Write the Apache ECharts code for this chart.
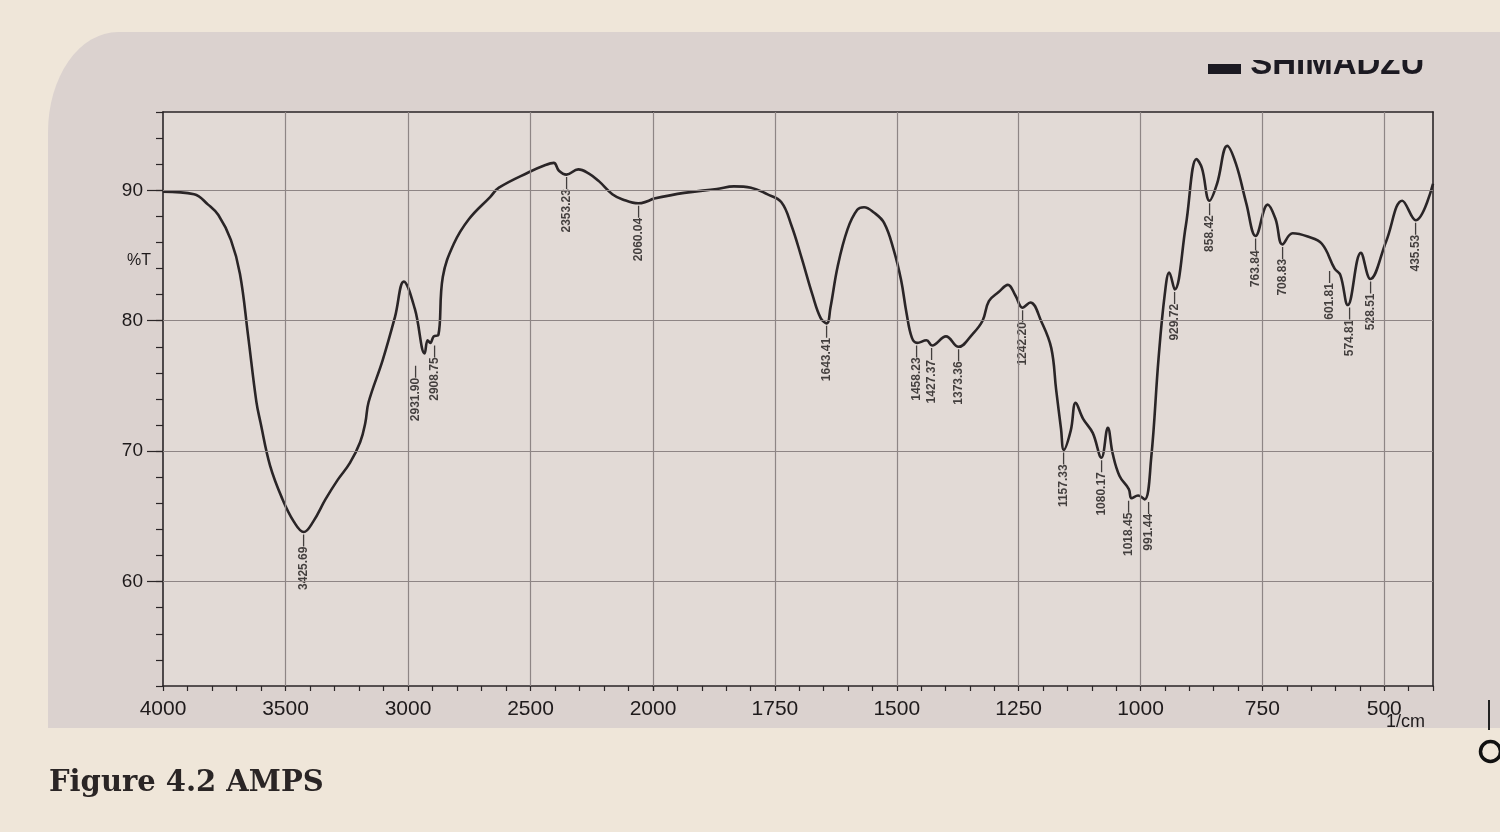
<!DOCTYPE html>
<html><head><meta charset="utf-8">
<script src="https://cdn.jsdelivr.net/npm/echarts@6/dist/echarts.min.js"></script>
<style>
html,body{margin:0;padding:0;background:#efe6d9;}
#paper{position:absolute;left:48px;top:32px;width:1452px;height:696px;background:#dbd2cf;border-top-left-radius:70px 100px;}
#c{position:absolute;left:0;top:0;width:1500px;height:832px;}
</style>
</head><body><div id="paper"></div><div id="c"></div>
<script>
// ---- data ----
const wavenumbers = [4000,3873,3816,3774,3723,3686,3653,3619,3602,3563,3513,3466,3425.69,3387,3337,3287,3237,3195,3174,3161,3103,3053,3017,2972,2931.90,2920,2908.75,2895,2876,2858,2813,2751,2664,2629,2505,2444,2405,2384,2353.23,2305,2263,2221,2166,2124,2060.04,2000,1936,1869,1834,1799,1766,1737,1716,1695,1673,1656,1643.41,1636,1621,1601,1581,1567,1547,1526,1506,1491,1480,1469,1458.23,1439,1427.37,1399,1373.36,1344,1324,1311,1291,1272,1256,1242.20,1226,1203,1183,1173,1163,1157.33,1143,1133,1118,1098,1080.17,1067,1057,1043,1024,1018.45,1005,991.44,978,963,950,941,929.72,907,885,874,858.42,843,822,804,783,763.84,739,723,708.83,688,657,628,601.81,590,574.81,548,528.51,496,463,435.53,400];
const transmittance = [89.9,89.7,88.9,88.1,86.2,83.6,78.9,73.8,72.2,68.9,66.35,64.6,63.8,64.6,66.3,67.8,69.1,70.7,72.2,73.75,77.0,80.3,83.0,80.9,77.5,78.5,78.3,78.8,78.9,83.35,85.9,87.8,89.5,90.2,91.4,91.9,92.1,91.5,91.2,91.6,91.3,90.7,89.7,89.3,89.0,89.35,89.8,90.1,90.3,90.2,89.7,89.1,87.3,84.8,82.0,80.2,79.8,81.0,84.2,87.0,88.5,88.7,88.3,87.5,85.4,83.1,80.6,78.7,78.3,78.5,78.1,78.8,78.0,79.0,80.0,81.5,82.2,82.75,81.9,81.0,81.4,79.9,77.9,74.7,71.7,70.1,71.6,73.7,72.5,71.4,69.5,71.8,69.8,68.1,67.1,66.4,66.6,66.3,69.5,77.1,82.1,83.7,82.4,87.3,92.4,91.7,89.2,90.5,93.4,92.0,89.0,86.5,88.9,87.8,85.85,86.7,86.45,85.9,84.0,83.5,81.2,85.2,83.2,86.1,89.2,87.7,90.5];
const peakWavenumbers = [3425.69,2931.90,2908.75,2353.23,2060.04,1643.41,1458.23,1427.37,1373.36,1242.20,1157.33,1080.17,1018.45,991.44,929.72,858.42,763.84,708.83,601.81,574.81,528.51,435.53];
const xTicksLeft = [4000,3500,3000,2500,2000];
const xTicksRight = [1750,1500,1250,1000,750,500];
const yTicks = [60,70,80,90];
const vGridLeft = [3500,3000,2500];
const vGridRight = [2000,1750,1500,1250,1000,750,500];

// ---- styling ----
const BREAK = 2000;
const ink = '#2a2527';
const gridInk = '#8e8585';
// label nudges in the rotated label frame: [towards bottom (negative), towards right]
const labelNudge = {'2931.90':[-10,-9],'2908.75':[0,4],'1018.45':[0,-3],'991.44':[0,4],'601.81':[0,-5],'574.81':[0,2]};

const leftData = [], rightData = [];
wavenumbers.forEach((w,i)=>{
  if (w >= BREAK) leftData.push([w, transmittance[i]]);
  if (w <= BREAK) rightData.push([w, transmittance[i]]);
});
const peakItem = w => {
  const it = {value:[w, transmittance[wavenumbers.indexOf(w)]]};
  const k = w.toFixed(2);
  if (labelNudge[k]) it.label = {offset: labelNudge[k]};
  return it;
};
const peaksLeft = peakWavenumbers.filter(w=>w>=BREAK).map(peakItem);
const peaksRight = peakWavenumbers.filter(w=>w<BREAK).map(peakItem);

const peakLabel = {
  show:true, position:'bottom', distance:2, rotate:90, align:'right', verticalAlign:'middle',
  fontFamily:'Liberation Sans', fontSize:12, fontWeight:'bold', color:'#1a1617',
  formatter: p => p.value[0].toFixed(2) + '\u2014'
};
const gridLineStyle = {color:gridInk, width:1.2, type:'solid'};
const axisLineStyle = {color:ink, width:1.6};
const plain = v => String(v);
const xLabelStyle = {fontFamily:'Liberation Sans', fontSize:21, color:'#1e1a1b', margin:13, formatter:plain};

const G1 = {left:163, top:112, width:490, height:574};
const G2 = {left:653, top:112, width:780, height:574};

const option = {
  animation:false,
  backgroundColor:'transparent',
  title:{text:'Figure 4.2 AMPS', left:44, top:764,
    textStyle:{fontFamily:'DejaVu Serif', fontSize:29, fontWeight:'bold', color:'#2a2525'}},
  grid:[
    Object.assign({show:true, backgroundColor:'#e2dad6', borderWidth:0}, G1),
    Object.assign({show:true, backgroundColor:'#e2dad6', borderWidth:0}, G2)
  ],
  xAxis:[
    {gridIndex:0, type:'value', min:2000, max:4000, inverse:true, interval:100,
     axisLine:{show:true, onZero:false, lineStyle:axisLineStyle},
     axisTick:{show:true, length:5, lineStyle:{color:ink, width:1.2}},
     axisLabel:Object.assign({customValues:xTicksLeft}, xLabelStyle),
     splitLine:{show:false}},
    {gridIndex:1, type:'value', min:400, max:2000, inverse:true, interval:50,
     axisLine:{show:true, onZero:false, lineStyle:axisLineStyle},
     axisTick:{show:true, length:5, lineStyle:{color:ink, width:1.2}},
     axisLabel:Object.assign({customValues:xTicksRight}, xLabelStyle),
     splitLine:{show:false}},
    {gridIndex:0, type:'value', position:'top', min:2000, max:4000, inverse:true,
     axisLine:{show:true, onZero:false, lineStyle:axisLineStyle}, axisTick:{show:false}, axisLabel:{show:false}, splitLine:{show:false}},
    {gridIndex:1, type:'value', position:'top', min:400, max:2000, inverse:true,
     axisLine:{show:true, onZero:false, lineStyle:axisLineStyle}, axisTick:{show:false}, axisLabel:{show:false}, splitLine:{show:false}}
  ],
  yAxis:[
    {gridIndex:0, type:'value', min:52, max:96, interval:2, position:'left',
     axisLine:{show:true, onZero:false, lineStyle:axisLineStyle},
     axisTick:{show:true, length:7, lineStyle:{color:ink, width:1.2}},
     axisLabel:{show:false}, splitLine:{show:false}},
    {gridIndex:0, type:'value', min:52, max:96, position:'left',
     axisLine:{show:false},
     axisTick:{show:true, customValues:yTicks, length:16, lineStyle:{color:ink, width:1.2}},
     axisLabel:{customValues:yTicks, margin:20, fontFamily:'Liberation Sans', fontSize:19, color:'#1e1a1b', formatter:plain},
     splitLine:{show:false}},
    {gridIndex:1, type:'value', min:52, max:96, position:'right',
     axisLine:{show:true, onZero:false, lineStyle:axisLineStyle}, axisTick:{show:false}, axisLabel:{show:false}, splitLine:{show:false}}
  ],
  graphic:[
    {type:'text', left:127, top:253, style:{text:'%T', fontFamily:'Liberation Sans', fontSize:16, fill:'#1e1a1b'}},
    {type:'text', left:1386, top:713, style:{text:'1/cm', fontFamily:'Liberation Sans', fontSize:18, fill:'#1e1a1b'}},
    {type:'text', left:1208, top:48, style:{text:'\u25AC SHIMADZU', fontFamily:'Liberation Sans', fontWeight:'bold', fontSize:33, fill:'#1c1a22'}},
    {type:'rect', left:1190, top:32, shape:{width:300, height:28}, style:{fill:'#dbd2cf'}},
    {type:'rect', left:1488, top:700, shape:{width:2, height:30}, style:{fill:'#222'}},
    {type:'circle', left:1478, top:739, shape:{r:10}, style:{fill:'none', stroke:'#111', lineWidth:3.5}}
  ],
  series:[
    {type:'line', xAxisIndex:0, yAxisIndex:0, data:[], z:1, silent:true,
     markLine:{silent:true, symbol:'none', label:{show:false}, lineStyle:gridLineStyle,
       data: vGridLeft.map(v=>({xAxis:v})).concat(yTicks.map(v=>({yAxis:v})))}},
    {type:'line', xAxisIndex:1, yAxisIndex:2, data:[], z:1, silent:true,
     markLine:{silent:true, symbol:'none', label:{show:false}, lineStyle:gridLineStyle,
       data: vGridRight.map(v=>({xAxis:v})).concat(yTicks.map(v=>({yAxis:v})))}},
    {type:'line', xAxisIndex:0, yAxisIndex:0, data:leftData, showSymbol:false, smooth:0.4, z:3,
     lineStyle:{color:ink, width:2.6}},
    {type:'line', xAxisIndex:1, yAxisIndex:2, data:rightData, showSymbol:false, smooth:0.4, z:3,
     lineStyle:{color:ink, width:2.6}},
    {type:'scatter', xAxisIndex:0, yAxisIndex:0, data:peaksLeft, symbolSize:1, z:4,
     itemStyle:{color:'rgba(0,0,0,0)'}, label:peakLabel},
    {type:'scatter', xAxisIndex:1, yAxisIndex:2, data:peaksRight, symbolSize:1, z:4,
     itemStyle:{color:'rgba(0,0,0,0)'}, label:peakLabel}
  ]
};
const chart = echarts.init(document.getElementById('c'), null, {renderer:'canvas'});
chart.setOption(option);
</script>
</body></html>
